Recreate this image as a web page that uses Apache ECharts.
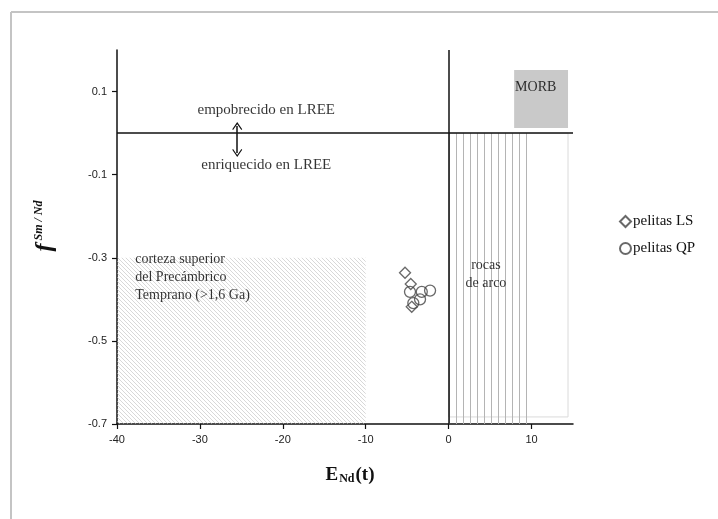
<!DOCTYPE html>
<html><head><meta charset="utf-8">
<script src="https://cdn.jsdelivr.net/npm/echarts@6/dist/echarts.min.js"></script>
<style>html,body{margin:0;padding:0;background:#fff}#c{width:718px;height:519px}</style>
</head><body><div id="c"></div>
<script>
// Sample data: εNd(t) vs f(Sm/Nd)
const seriesNames = ['pelitas LS', 'pelitas QP'];
const pelitasLS = [[-5.26, -0.336], [-4.57, -0.363], [-4.45, -0.418]];
const pelitasQP = [[-4.66, -0.382], [-3.24, -0.382], [-2.24, -0.379], [-3.45, -0.400], [-4.26, -0.409]];
const xTicks = [-40, -30, -20, -10, 0, 10];
const yTicks = [-0.7, -0.5, -0.3, -0.1, 0.1];

// Reference fields
const morbBox = [[7.9, 0.152], [14.4, 0.012]];
const arcBox = [[0, 0], [10, -0.7]];
const arcOutline = [[0, 0], [14.4, -0.683]];
const crustBox = [[-40, -0.3], [-10, -0.7]];
const arrowSpan = [[-25.5, 0.017], [-25.5, -0.048]];

// Field labels
const labels = [
  { text: 'empobrecido en LREE', pos: [-22.0, 0.056], align: 'center', size: 15 },
  { text: 'enriquecido en LREE', pos: [-22.0, -0.077], align: 'center', size: 15 },
  { text: 'MORB', pos: [10.5, 0.109], align: 'center', size: 14 },
  { text: 'rocas\nde arco', pos: [4.5, -0.341], align: 'center', size: 14 },
  { text: 'corteza superior\ndel Precámbrico\nTemprano (>1,6 Ga)', pos: [-37.8, -0.346], align: 'left', size: 14 }
];

function hatchPattern() {
  const c = document.createElement('canvas');
  c.width = 4; c.height = 4;
  const g = c.getContext('2d');
  g.strokeStyle = '#bdbdbd';
  g.lineWidth = 0.6;
  g.beginPath();
  g.moveTo(0, 0); g.lineTo(4, 4);
  g.moveTo(-1, 3); g.lineTo(1, 5);
  g.moveTo(3, -1); g.lineTo(5, 1);
  g.stroke();
  return c;
}
function stripePattern() {
  const c = document.createElement('canvas');
  c.width = 7; c.height = 4;
  const g = c.getContext('2d');
  g.fillStyle = '#b4b4b4';
  g.fillRect(1, 0, 1, 4);
  return c;
}

const serif = 'Liberation Serif';
const chart = echarts.init(document.getElementById('c'));

const chevron = 'path://M0,0 L6,9 L5,10 L0,2.6 L-5,10 L-6,9 Z';

chart.setOption({
  animation: false,
  backgroundColor: '#fff',
  grid: { left: 117, right: 145, top: 50, bottom: 95 },
  xAxis: {
    type: 'value', min: -40, max: 15, interval: 10,
    axisLine: { onZero: false, lineStyle: { color: '#111', width: 1.5 } },
    axisTick: { show: true, length: 5, customValues: xTicks, lineStyle: { color: '#111', width: 1.2 } },
    axisLabel: { customValues: xTicks, color: '#222', fontFamily: 'Liberation Sans', fontSize: 11, margin: 10 },
    splitLine: { show: false }
  },
  yAxis: {
    type: 'value', min: -0.7, max: 0.2, interval: 0.2,
    axisLine: { show: true, onZero: false, lineStyle: { color: '#111', width: 1.5 } },
    axisTick: { show: true, length: 5, customValues: yTicks, lineStyle: { color: '#111', width: 1.2 } },
    axisLabel: { customValues: yTicks, color: '#222', fontFamily: 'Liberation Sans', fontSize: 11, margin: 10,
      formatter: v => v.toFixed(1) },
    splitLine: { show: false }
  },
  legend: {
    orient: 'vertical', left: 614, top: 209, itemGap: 12,
    itemWidth: 11, itemHeight: 11,
    data: seriesNames,
    textStyle: { fontFamily: serif, fontSize: 15, color: '#111', padding: [0, 0, 0, -3] }
  },
  graphic: [
    { type: 'line', shape: { x1: 11, y1: 12, x2: 718, y2: 12 }, style: { stroke: '#c4c4c4', lineWidth: 2 }, silent: true },
    { type: 'line', shape: { x1: 11, y1: 12, x2: 11, y2: 519 }, style: { stroke: '#c4c4c4', lineWidth: 2 }, silent: true },
    { type: 'text', x: 45, y: 226, rotation: Math.PI / 2,
      style: { text: '{f|f}{s| Sm / Nd}', align: 'center', verticalAlign: 'middle',
        rich: {
          f: { fontFamily: serif, fontSize: 24, fontStyle: 'italic', fontWeight: 'bold', fill: '#111' },
          s: { fontFamily: serif, fontSize: 12, fontStyle: 'italic', fontWeight: 'bold', fill: '#111', verticalAlign: 'top', padding: [0, 0, 10, 0] }
        } } },
    { type: 'text', x: 350, y: 475,
      style: { text: '{e|E}{n|Nd}{e|(t)}', align: 'center', verticalAlign: 'middle',
        rich: {
          e: { fontFamily: serif, fontSize: 19, fontWeight: 'bold', fill: '#111' },
          n: { fontFamily: serif, fontSize: 12, fontWeight: 'bold', fill: '#111', verticalAlign: 'bottom', padding: [6, 1, 0, 1] }
        } } }
  ],
  series: [
    {
      name: 'fields', type: 'scatter', silent: true, z: 1,
      data: labels.map(l => ({ value: l.pos, label: { align: l.align, fontSize: l.size } })),
      symbolSize: 0,
      label: {
        show: true, position: 'inside',
        formatter: p => labels[p.dataIndex].text,
        fontFamily: serif, fontSize: 14, lineHeight: 18, color: '#000',
        textBorderWidth: 0
      },
      markArea: {
        silent: true,
        data: [
          [{ coord: crustBox[0], itemStyle: { color: { image: hatchPattern(), repeat: 'repeat' } } }, { coord: crustBox[1] }],
          [{ coord: arcOutline[0], itemStyle: { color: 'rgba(0,0,0,0)', borderColor: '#dadada', borderWidth: 1 } }, { coord: arcOutline[1] }],
          [{ coord: arcBox[0], itemStyle: { color: { image: stripePattern(), repeat: 'repeat' } } }, { coord: arcBox[1] }],
          [{ coord: morbBox[0], itemStyle: { color: '#c9c9c9' } }, { coord: morbBox[1] }]
        ]
      },
      markLine: {
        silent: true, symbol: 'none',
        label: { show: false },
        lineStyle: { color: '#111', width: 1.5, type: 'solid' },
        data: [
          { xAxis: 0 },
          { yAxis: 0 },
          [{ coord: arrowSpan[0], symbol: chevron, symbolSize: [10, 8] },
           { coord: arrowSpan[1], symbol: chevron, symbolSize: [10, 8] }]
        ]
      }
    },
    {
      name: seriesNames[0], type: 'scatter', z: 5, data: pelitasLS,
      symbol: 'diamond', symbolSize: 11,
      itemStyle: { color: 'rgba(255,255,255,0)', borderColor: '#444', borderWidth: 1.3 }
    },
    {
      name: seriesNames[1], type: 'scatter', z: 5, data: pelitasQP,
      symbol: 'circle', symbolSize: 11,
      itemStyle: { color: 'rgba(255,255,255,0)', borderColor: '#444', borderWidth: 1.3 }
    }
  ]
});
</script>
</body></html>
